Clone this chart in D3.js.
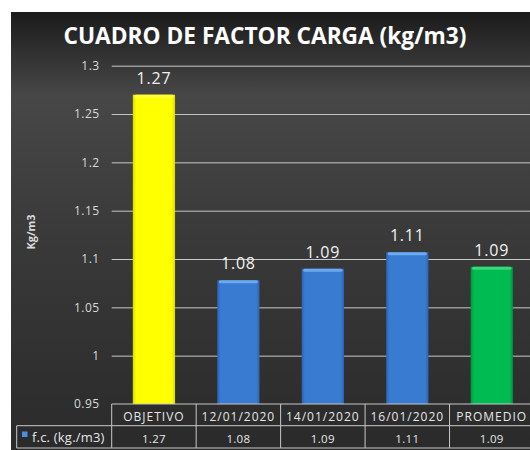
<!DOCTYPE html>
<html lang="es">
<head>
<meta charset="UTF-8">
<title>Cuadro de factor carga</title>
<script src="https://d3js.org/d3.v7.min.js"></script>
<style>
  body { margin: 0; background: #fff; }
  svg { display: block; font-family: "Open Sans", "Noto Sans", sans-serif; }
</style>
</head>
<body>
<svg id="chart" width="530" height="450"></svg>
<script>
// data
const categories = ["OBJETIVO", "12/01/2020", "14/01/2020", "16/01/2020", "PROMEDIO"];
const values = [1.27, 1.078, 1.09, 1.107, 1.092];
const barKinds = ["yellow", "blue", "blue", "blue", "green"];
const yTicks = [0.95, 1, 1.05, 1.1, 1.15, 1.2, 1.25, 1.3];
const seriesName = "f.c. (kg./m3)";
const chartTitle = "CUADRO DE FACTOR CARGA (kg/m3)";
const yTitle = "Kg/m3";

const svg = d3.select("#chart");
const defs = svg.append("defs");

// background gradient
const bg = defs.append("linearGradient").attr("id", "bg").attr("x1", 0).attr("y1", 0).attr("x2", 0).attr("y2", 1);
bg.append("stop").attr("offset", "0%").attr("stop-color", "#1b1b1b");
bg.append("stop").attr("offset", "19%").attr("stop-color", "#474747");
bg.append("stop").attr("offset", "55%").attr("stop-color", "#383838");
bg.append("stop").attr("offset", "100%").attr("stop-color", "#2a2a2a");
svg.append("rect").attr("x", 11).attr("y", 12).attr("width", 530).attr("height", 440).attr("fill", "url(#bg)");

// bar gradients
const palette = {
  yellow: ["#d9d900", "#ffff00", "#ffff3a"],
  blue: ["#2d64b0", "#3a7bd2", "#6ea8ee"],
  green: ["#00953f", "#00bb52", "#3ad978"]
};
Object.keys(palette).forEach(k => {
  const g = defs.append("linearGradient").attr("id", "g-" + k).attr("x1", 0).attr("x2", 1).attr("y1", 0).attr("y2", 0);
  g.append("stop").attr("offset", "0%").attr("stop-color", palette[k][0]);
  g.append("stop").attr("offset", "8%").attr("stop-color", palette[k][1]);
  g.append("stop").attr("offset", "92%").attr("stop-color", palette[k][1]);
  g.append("stop").attr("offset", "100%").attr("stop-color", palette[k][0]);
});

const plotLeft = 111.7, plotRight = 534, plotTop = 65.7, plotBottom = 404;

const x = d3.scaleBand().domain(categories).range([plotLeft, plotRight]).paddingInner(0.5).paddingOuter(0.25);
const step = x.step();
const y = d3.scaleLinear().domain([0.95, 1.3]).range([plotBottom, plotTop]);

// title
svg.append("text").attr("x", 265).attr("y", 44).attr("text-anchor", "middle")
  .attr("fill", "#ffffff").attr("font-size", 22.7).attr("font-weight", "bold")
  .text(chartTitle);

// y axis with gridlines
const yAxis = svg.append("g").attr("transform", `translate(${plotLeft},0)`)
  .call(d3.axisLeft(y).tickValues(yTicks).tickFormat(d => String(d)).tickSizeInner(-(plotRight - plotLeft)).tickSizeOuter(0).tickPadding(12));
yAxis.select(".domain").remove();
yAxis.selectAll(".tick line").attr("stroke", "#c8c8c8").attr("stroke-width", 1)
  .filter(d => d === 0.95).remove();
yAxis.selectAll(".tick text").attr("fill", "#d9d9d9").attr("font-size", 12)
  .attr("letter-spacing", 0.5).attr("font-family", "Open Sans, sans-serif");

// y title
svg.append("text").attr("transform", "translate(35,232) rotate(-90)").attr("text-anchor", "middle")
  .attr("fill", "#d9d9d9").attr("font-size", 11).attr("font-weight", "bold").text(yTitle);

// bars
const bars = svg.append("g").selectAll("g").data(categories).join("g");
bars.append("rect")
  .attr("x", d => x(d)).attr("width", x.bandwidth())
  .attr("y", (d, i) => y(values[i])).attr("height", (d, i) => plotBottom - y(values[i]))
  .attr("fill", (d, i) => "url(#g-" + barKinds[i] + ")");
bars.append("rect")
  .attr("x", d => x(d) + 1.5).attr("width", x.bandwidth() - 3)
  .attr("y", (d, i) => y(values[i])).attr("height", 3)
  .attr("rx", 1.5)
  .attr("fill", (d, i) => palette[barKinds[i]][2]);

// data labels
svg.append("g").selectAll("text").data(categories).join("text")
  .attr("x", d => x(d) + x.bandwidth() / 2)
  .attr("y", (d, i) => y(values[i]) - 11)
  .attr("text-anchor", "middle").attr("fill", "#f2f2f2").attr("font-size", 16)
  .attr("letter-spacing", 0.8)
  .text((d, i) => d3.format(".2f")(values[i]));

// data table
const fmt = d3.format(".2f");
const rowTop = plotBottom, rowMid = 425.7, rowBot = 448;
const table = svg.append("g").attr("stroke", "#c8c8c8").attr("stroke-width", 1).attr("fill", "none");
table.append("line").attr("x1", plotLeft).attr("x2", plotRight).attr("y1", rowTop).attr("y2", rowTop);
table.append("line").attr("x1", 16.7).attr("x2", plotRight).attr("y1", rowMid).attr("y2", rowMid);
table.append("line").attr("x1", 16.7).attr("x2", plotRight).attr("y1", rowBot).attr("y2", rowBot);
table.append("line").attr("x1", 16.7).attr("x2", 16.7).attr("y1", rowMid).attr("y2", rowBot);
table.selectAll("line.col").data(d3.range(categories.length + 1)).join("line").attr("class", "col")
  .attr("x1", i => plotLeft + i * step).attr("x2", i => plotLeft + i * step)
  .attr("y1", rowTop).attr("y2", rowBot);

svg.append("g").selectAll("text").data(categories).join("text")
  .attr("x", d => x(d) + x.bandwidth() / 2).attr("y", 421)
  .attr("text-anchor", "middle").attr("fill", "#e6e6e6").attr("font-size", 12)
  .attr("letter-spacing", 1)
  .text(d => d);
svg.append("g").selectAll("text").data(values).join("text")
  .attr("x", (d, i) => x(categories[i]) + x.bandwidth() / 2).attr("y", 442.5)
  .attr("text-anchor", "middle").attr("fill", "#e6e6e6").attr("font-size", 11.5)
  .attr("letter-spacing", 0.3)
  .text(d => fmt(d));

// legend key in table
svg.append("rect").attr("x", 22).attr("y", 431.5).attr("width", 5.5).attr("height", 5.5).attr("fill", "#4a8ee0");
svg.append("text").attr("x", 32).attr("y", 442).attr("fill", "#e6e6e6").attr("font-size", 13)
  .attr("letter-spacing", 0.2).text(seriesName);
</script>
</body>
</html>
